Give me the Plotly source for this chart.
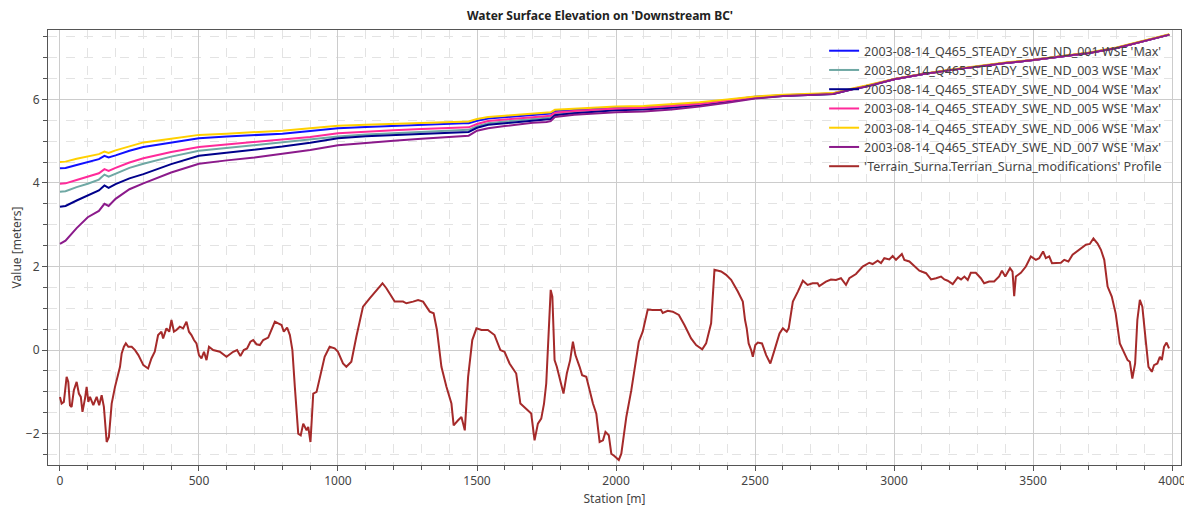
import plotly.graph_objects as go

# ---------------- data ----------------
wse_station = [0, 20, 60, 100, 140, 160, 175, 200, 250, 300, 400, 500, 600, 700, 800, 900,
               1000, 1100, 1200, 1300, 1400, 1450, 1470, 1500, 1540, 1600, 1700, 1750, 1765,
               1780, 1850, 2000, 2100, 2200, 2300, 2400, 2500, 2600, 2700, 2780, 2850, 2900,
               3000, 3100, 3200, 3300, 3400, 3500, 3600, 3700, 3800, 3900, 3990]

wse_nd001 = [4.35, 4.36, 4.43, 4.50, 4.57, 4.65, 4.61, 4.66, 4.77, 4.86, 4.97, 5.07, 5.11, 5.14,
             5.18, 5.24, 5.31, 5.34, 5.37, 5.39, 5.42, 5.43, 5.43, 5.49, 5.54, 5.57, 5.63, 5.65,
             5.66, 5.72, 5.75, 5.80, 5.82, 5.86, 5.91, 5.98, 6.06, 6.10, 6.12, 6.14, 6.25, 6.32,
             6.48, 6.60, 6.70, 6.79, 6.87, 6.94, 7.02, 7.11, 7.23, 7.39, 7.55]
wse_nd003 = [3.79, 3.80, 3.90, 3.98, 4.08, 4.20, 4.15, 4.22, 4.36, 4.46, 4.63, 4.77, 4.84, 4.90,
             4.97, 5.04, 5.11, 5.16, 5.19, 5.23, 5.26, 5.27, 5.27, 5.36, 5.43, 5.47, 5.54, 5.56,
             5.57, 5.65, 5.69, 5.76, 5.78, 5.82, 5.87, 5.95, 6.04, 6.09, 6.11, 6.13, 6.24, 6.31,
             6.48, 6.60, 6.70, 6.79, 6.87, 6.94, 7.02, 7.11, 7.23, 7.39, 7.55]
wse_nd004 = [3.43, 3.45, 3.58, 3.70, 3.82, 3.94, 3.88, 3.97, 4.11, 4.21, 4.45, 4.65, 4.72, 4.79,
             4.87, 4.96, 5.07, 5.12, 5.15, 5.18, 5.21, 5.22, 5.22, 5.32, 5.39, 5.43, 5.50, 5.52,
             5.53, 5.62, 5.67, 5.74, 5.76, 5.80, 5.86, 5.94, 6.03, 6.08, 6.11, 6.13, 6.24, 6.31,
             6.48, 6.60, 6.70, 6.79, 6.87, 6.94, 7.02, 7.11, 7.23, 7.39, 7.55]
wse_nd005 = [3.98, 3.99, 4.07, 4.15, 4.23, 4.33, 4.29, 4.36, 4.49, 4.59, 4.74, 4.86, 4.92, 4.97,
             5.03, 5.10, 5.19, 5.23, 5.26, 5.29, 5.32, 5.33, 5.33, 5.41, 5.48, 5.52, 5.58, 5.60,
             5.61, 5.68, 5.72, 5.78, 5.80, 5.84, 5.89, 5.97, 6.05, 6.09, 6.11, 6.14, 6.25, 6.32,
             6.48, 6.60, 6.70, 6.79, 6.87, 6.94, 7.02, 7.11, 7.23, 7.39, 7.55]
wse_nd006 = [4.50, 4.51, 4.58, 4.63, 4.69, 4.75, 4.72, 4.78, 4.88, 4.97, 5.06, 5.15, 5.18, 5.21,
             5.25, 5.31, 5.37, 5.39, 5.41, 5.43, 5.46, 5.47, 5.47, 5.53, 5.58, 5.61, 5.66, 5.68,
             5.69, 5.75, 5.78, 5.83, 5.84, 5.88, 5.93, 6.00, 6.07, 6.11, 6.13, 6.15, 6.26, 6.33,
             6.49, 6.61, 6.71, 6.80, 6.88, 6.95, 7.03, 7.12, 7.24, 7.40, 7.56]
wse_nd007 = [2.54, 2.62, 2.92, 3.18, 3.33, 3.50, 3.45, 3.62, 3.85, 3.99, 4.25, 4.46, 4.54, 4.61,
             4.70, 4.79, 4.90, 4.96, 5.01, 5.06, 5.11, 5.13, 5.13, 5.25, 5.31, 5.36, 5.44, 5.46,
             5.48, 5.58, 5.63, 5.69, 5.71, 5.76, 5.83, 5.92, 6.02, 6.08, 6.10, 6.13, 6.24, 6.31,
             6.48, 6.60, 6.70, 6.79, 6.87, 6.94, 7.02, 7.11, 7.23, 7.39, 7.55]

terrain_station = [
    0, 6, 14, 24, 30, 36, 42, 50, 60, 68, 75, 81, 90, 96, 102, 108, 120, 132, 141, 150, 158,
    168, 176, 186, 198, 210, 216, 222, 230, 237, 246, 258, 270, 282, 300, 317, 329, 341, 353,
    365, 371, 383, 393, 401, 410, 419, 431, 443, 455, 464, 473, 482, 491, 500, 509, 518, 527,
    536, 551, 575, 599, 623, 637, 649, 661, 673, 685, 695, 707, 719, 731, 749, 761, 773, 785,
    797, 805, 817, 827, 836, 845, 857, 866, 875, 887, 893, 901, 911, 923, 940, 952, 970, 988,
    1000, 1018, 1030, 1048, 1066, 1090, 1114, 1138, 1160, 1174, 1204, 1234, 1246, 1270, 1288,
    1306, 1330, 1344, 1356, 1372, 1390, 1408, 1416, 1432, 1444, 1450, 1456, 1468, 1483, 1498,
    1516, 1539, 1563, 1584, 1599, 1617, 1641, 1656, 1677, 1695, 1707, 1719, 1731, 1741, 1749,
    1759, 1765, 1771, 1779, 1787, 1797, 1811, 1823, 1835, 1845, 1854, 1869, 1878, 1893, 1917,
    1929, 1941, 1953, 1962, 1974, 1983, 1995, 2010, 2019, 2037, 2055, 2066, 2082, 2096, 2114,
    2132, 2162, 2168, 2186, 2204, 2226, 2246, 2270, 2288, 2310, 2324, 2342, 2354, 2378, 2396,
    2414, 2438, 2456, 2464, 2470, 2477, 2486, 2492, 2501, 2510, 2525, 2540, 2555, 2570, 2588,
    2600, 2614, 2621, 2636, 2654, 2672, 2689, 2707, 2725, 2731, 2755, 2773, 2791, 2809, 2827,
    2839, 2863, 2887, 2911, 2923, 2941, 2953, 2965, 2983, 2995, 3007, 3028, 3037, 3055, 3073,
    3091, 3115, 3133, 3151, 3169, 3181, 3193, 3211, 3229, 3241, 3253, 3265, 3276, 3294, 3312,
    3324, 3342, 3360, 3378, 3388, 3400, 3417, 3426, 3432, 3438, 3456, 3474, 3492, 3510, 3522,
    3536, 3546, 3558, 3568, 3582, 3600, 3612, 3627, 3642, 3666, 3690, 3704, 3717, 3732, 3744,
    3756, 3768, 3783, 3797, 3812, 3828, 3840, 3848, 3857, 3867, 3875, 3884, 3893, 3905, 3915,
    3927, 3935, 3947, 3956, 3963, 3971, 3980, 3989]
terrain_elev = [
    -1.12, -1.28, -1.24, -0.64, -0.76, -1.32, -1.36, -0.96, -0.76, -1.04, -1.12, -1.48, -1.16,
    -0.88, -1.24, -1.12, -1.32, -1.12, -1.32, -1.08, -1.36, -2.20, -2.08, -1.28, -0.88, -0.60,
    -0.40, -0.08, 0.08, 0.16, 0.08, 0.08, 0.00, -0.12, -0.36, -0.44, -0.20, -0.04, 0.36, 0.44,
    0.28, 0.52, 0.44, 0.72, 0.44, 0.48, 0.56, 0.52, 0.68, 0.44, 0.36, 0.24, 0.16, -0.12, -0.20,
    -0.04, -0.24, 0.08, 0.00, -0.04, -0.16, -0.04, 0.00, -0.14, 0.00, 0.04, 0.20, 0.24, 0.14,
    0.12, 0.24, 0.30, 0.48, 0.68, 0.64, 0.60, 0.44, 0.54, 0.36, 0.00, -0.90, -2.00, -2.04, -1.76,
    -1.92, -1.84, -2.20, -1.04, -1.00, -0.48, -0.16, 0.08, 0.04, -0.04, -0.32, -0.40, -0.28,
    0.32, 1.04, 1.24, 1.44, 1.60, 1.48, 1.16, 1.16, 1.12, 1.16, 1.20, 1.16, 0.92, 0.88, 0.48,
    -0.40, -0.88, -1.28, -1.80, -1.68, -1.60, -1.76, -1.92, -0.64, 0.24, 0.52, 0.48, 0.48, 0.36,
    0.00, -0.04, -0.32, -0.56, -1.28, -1.40, -1.52, -2.16, -1.76, -1.64, -1.28, -0.80, 0.48,
    1.44, 1.28, -0.24, -0.40, -0.68, -1.04, -0.56, -0.24, 0.20, -0.12, -0.40, -0.60, -0.64,
    -1.28, -1.52, -2.20, -2.16, -1.96, -2.04, -2.48, -2.54, -2.63, -2.48, -1.60, -0.96, -0.48,
    0.20, 0.44, 0.97, 0.96, 0.96, 0.89, 0.94, 0.92, 0.84, 0.60, 0.28, 0.12, 0.02, 0.16, 0.64,
    1.92, 1.88, 1.80, 1.68, 1.40, 1.16, 0.72, 0.52, 0.16, 0.00, -0.16, 0.12, 0.18, 0.16, -0.12,
    -0.32, 0.00, 0.40, 0.52, 0.44, 0.52, 1.16, 1.40, 1.66, 1.56, 1.60, 1.60, 1.53, 1.64, 1.69,
    1.68, 1.72, 1.56, 1.72, 1.82, 2.00, 2.09, 2.06, 2.14, 2.08, 2.20, 2.17, 2.25, 2.16, 2.30,
    2.16, 2.12, 2.00, 1.90, 1.84, 1.69, 1.72, 1.76, 1.69, 1.66, 1.58, 1.74, 1.69, 1.76, 1.68,
    1.85, 1.85, 1.72, 1.60, 1.64, 1.64, 1.76, 1.90, 1.76, 1.96, 1.88, 1.29, 1.76, 1.85, 2.00,
    2.24, 2.16, 2.20, 2.36, 2.20, 2.24, 2.08, 2.09, 2.09, 2.16, 2.12, 2.28, 2.40, 2.52, 2.54,
    2.67, 2.55, 2.40, 2.16, 1.52, 1.28, 0.88, 0.16, -0.08, -0.24, -0.28, -0.68, -0.32, 0.72,
    1.20, 1.04, 0.24, -0.40, -0.52, -0.36, -0.32, -0.16, -0.24, 0.08, 0.18, 0.04]

series_names = [
    "2003-08-14_Q465_STEADY_SWE_ND_001 WSE 'Max'",
    "2003-08-14_Q465_STEADY_SWE_ND_003 WSE 'Max'",
    "2003-08-14_Q465_STEADY_SWE_ND_004 WSE 'Max'",
    "2003-08-14_Q465_STEADY_SWE_ND_005 WSE 'Max'",
    "2003-08-14_Q465_STEADY_SWE_ND_006 WSE 'Max'",
    "2003-08-14_Q465_STEADY_SWE_ND_007 WSE 'Max'",
]
terrain_name = "'Terrain_Surna.Terrian_Surna_modifications' Profile"
series_colors = ["#1010ff", "#6fa8a4", "#00008b", "#ff2a9a", "#ffd000", "#8b1a8b"]
terrain_color = "#a52a2a"

# ---------------- figure ----------------
fig = go.Figure()
for name, vals, col in zip(series_names,
                           [wse_nd001, wse_nd003, wse_nd004, wse_nd005, wse_nd006, wse_nd007],
                           series_colors):
    fig.add_trace(go.Scatter(x=wse_station, y=vals, mode="lines", name=name,
                             line=dict(color=col, width=2)))
fig.add_trace(go.Scatter(x=terrain_station, y=terrain_elev, mode="lines", name=terrain_name,
                         line=dict(color=terrain_color, width=2)))

font_family = "Noto Sans, Open Sans, DejaVu Sans, sans-serif"
axis_common = dict(
    showline=True, linecolor="#555555", linewidth=1, mirror=True,
    ticks="outside", ticklen=5, tickcolor="#555555",
    showgrid=True, gridcolor="#cccccc", gridwidth=1,
    zeroline=False, automargin=False,
    tickfont=dict(size=12, color="#444444", family=font_family),
)
# the page places the chart 8 px in from the top-left corner, so the canvas is
# slightly smaller than the window and margins are offset accordingly
fig.update_layout(
    width=1184, height=503,
    paper_bgcolor="white", plot_bgcolor="white",
    margin=dict(l=40, r=11, t=22, b=46),
    title=dict(text="<b>Water Surface Elevation on 'Downstream BC'</b>",
               x=0.5, xanchor="center", y=1, yanchor="top", pad=dict(t=4),
               font=dict(size=12, color="#222222", family=font_family)),
    font=dict(family=font_family, color="#444444"),
    showlegend=True,
    legend=dict(x=0.685, y=0.986, xanchor="left", yanchor="top",
                bgcolor="rgba(0,0,0,0)", borderwidth=0,
                font=dict(size=12.5, color="#444444", family=font_family),
                tracegroupgap=0),
)
fig.update_xaxes(
    range=[-43, 4032], dtick=500, tick0=0,
    title=dict(text="Station [m]", font=dict(size=12, color="#444444"), standoff=6),
    minor=dict(dtick=100, ticks="outside", ticklen=4, tickcolor="#555555",
               showgrid=True, gridcolor="#e3e3e3", griddash="dash"),
    **axis_common,
)
fig.update_yaxes(
    range=[-2.75, 7.66], dtick=2, tick0=0,
    title=dict(text="Value [meters]", font=dict(size=12, color="#444444"), standoff=3),
    minor=dict(dtick=0.5, ticks="outside", ticklen=4, tickcolor="#555555",
               showgrid=True, gridcolor="#e3e3e3", griddash="dash"),
    **axis_common,
)

fig.write_html("out.html")
